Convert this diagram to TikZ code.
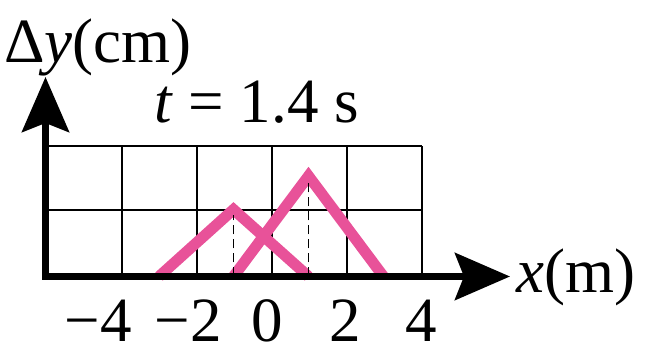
\documentclass[tikz,border=0pt]{standalone}
\usepackage{fontspec}
\setmainfont{Liberation Serif}
\usetikzlibrary{arrows.meta}
\definecolor{pulse}{RGB}{232,82,153}
\tikzset{
  gridline/.style={line width=2pt, black},
  axisline/.style={line width=7pt, black, -{Stealth[length=55pt,width=47pt,inset=9pt]}},
  pulseline/.style={line width=11pt, pulse, line join=miter, line cap=butt},
  guideline/.style={line width=1.8pt, black, dash pattern=on 9pt off 5pt},
  lbl/.style={inner sep=0pt, font=\fontsize{63}{70}\selectfont},
  ticklbl/.style={lbl, anchor=base, text depth=0pt}
}
\begin{document}
\begin{tikzpicture}[x=1pt,y=1pt]
\useasboundingbox (0,0) rectangle (645,347);
% grid
\foreach \gx in {121.5,196.5,271.5,346.5,421.5}
  \draw[gridline] (\gx,70.5) -- (\gx,201);
\foreach \gy in {137,201}
  \draw[gridline] (45.5,\gy) -- (421.5,\gy);
% pulses
\coordinate (L0) at (159,70.5);
\coordinate (L1) at (233.5,137.5);
\coordinate (L2) at (308.5,70.5);
\coordinate (R0) at (233.5,70.5);
\coordinate (R1) at (308.5,171);
\coordinate (R2) at (383.5,70.5);
\draw[pulseline] (L0) -- (L1) -- (L2);
\draw[pulseline] (R0) -- (R1) -- (R2);
\draw[guideline] (233.5,70.5) -- (233.5,132);
\draw[guideline] (308.5,70.5) -- (308.5,167);
% axes
\coordinate (O) at (45.5,70.5);
\coordinate (Ytip) at (45.5,270);
\coordinate (Xtip) at (510,70.5);
\draw[axisline] (45.5,67) -- (Ytip);
\draw[axisline] (42,70.5) -- (Xtip);
% labels
\node[lbl, anchor=base west] (ylab) at (4,284) {Δ\textit{y}(cm)};
\node[lbl, anchor=base west] (tlab) at (154,224) {\textit{t} = 1.4 s};
\node[lbl, anchor=base west] (xlab) at (516,54) {\textit{x}(m)};
\node[ticklbl] (tm4) at (98.5,5) {−4};
\node[ticklbl] (tm2) at (188.5,5) {−2};
\node[ticklbl] (t0) at (267.5,5) {0};
\node[ticklbl] (t2) at (345,5) {2};
\node[ticklbl] (t4) at (421,5) {4};
\end{tikzpicture}
\end{document}
